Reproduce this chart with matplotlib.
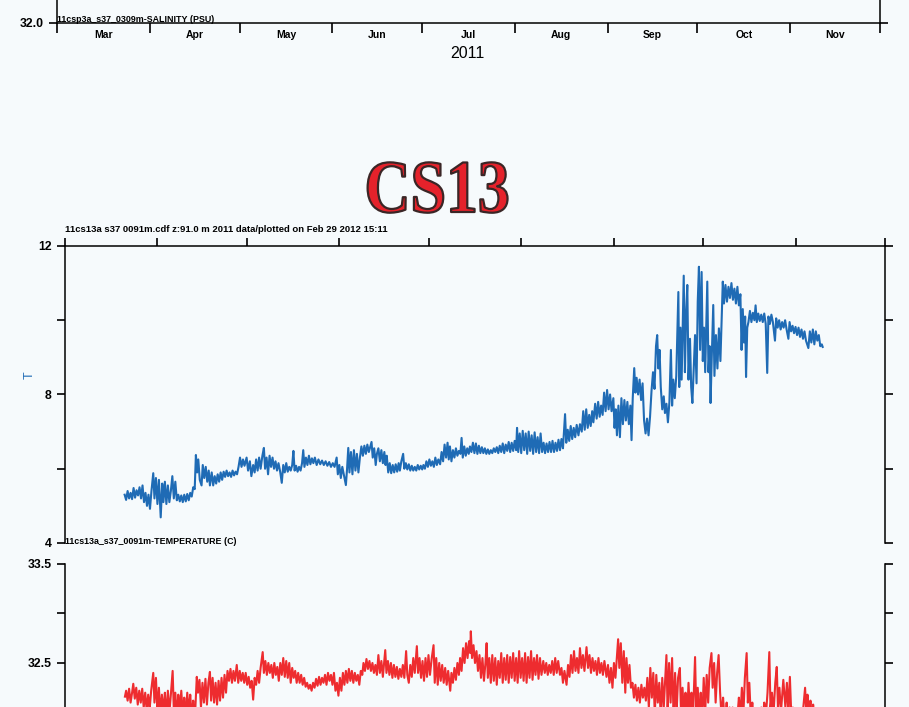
import matplotlib.pyplot as plt
import matplotlib.patheffects as pe
from matplotlib.transforms import Affine2D
from datetime import date

# mooring record, days counted from 1 Mar 2011
temp_pts = [
    (20.0, 5.30), (20.5, 5.16), (21.0, 5.40), (21.5, 5.20), (22.0, 5.35), (22.5, 5.18), (23.0, 5.48), (23.5, 5.22),
    (24.0, 5.42), (24.5, 5.28), (25.0, 5.50), (25.5, 5.20), (26.0, 5.55), (26.5, 5.10), (27.0, 5.35), (27.5, 5.00),
    (28.0, 5.30), (28.5, 4.92), (29.0, 5.40), (29.6, 5.88), (30.0, 5.20), (30.5, 5.75), (31.0, 5.05), (31.5, 5.70),
    (32.1, 4.69), (32.6, 5.60), (33.0, 5.10), (33.5, 5.65), (34.0, 5.05), (34.5, 5.55), (35.0, 5.10), (35.5, 5.40),
    (36.0, 5.80), (36.5, 5.20), (37.0, 5.65), (37.5, 5.15), (38.0, 5.30), (38.5, 5.12), (39.0, 5.28), (39.5, 5.10),
    (40.0, 5.30), (40.5, 5.12), (41.0, 5.32), (41.5, 5.15), (42.0, 5.35), (42.5, 5.25), (43.0, 5.50), (43.5, 5.45),
    (43.9, 6.37), (44.3, 5.90), (44.7, 6.25), (45.2, 5.70), (45.8, 5.55), (46.2, 6.10), (46.7, 5.75), (47.2, 6.05),
    (47.7, 5.65), (48.2, 5.95), (48.6, 5.55), (49.2, 5.90), (49.7, 5.55), (50.2, 5.80), (50.7, 5.60), (51.2, 5.85),
    (51.7, 5.65), (52.2, 5.90), (52.7, 5.70), (53.2, 5.92), (53.7, 5.78), (54.2, 5.95), (54.7, 5.80), (55.2, 5.90),
    (55.7, 5.78), (56.2, 5.95), (56.7, 5.82), (57.2, 5.92), (57.7, 5.85), (58.2, 6.05), (58.7, 6.30), (59.2, 6.05),
    (59.7, 6.25), (60.2, 6.08), (60.9, 6.30), (61.4, 5.95), (62.0, 6.20), (62.5, 5.80), (63.1, 6.10), (63.6, 5.90),
    (64.1, 6.25), (64.6, 5.95), (65.1, 6.30), (65.6, 6.00), (66.2, 6.35), (66.7, 6.56), (67.1, 6.00), (67.6, 6.30),
    (68.1, 5.85), (68.6, 6.35), (69.1, 6.05), (69.6, 6.30), (70.1, 6.00), (70.6, 6.20), (71.1, 5.95), (71.6, 6.15),
    (72.2, 5.90), (72.7, 5.62), (73.2, 6.10), (73.7, 5.90), (74.2, 6.15), (74.7, 5.92), (75.2, 6.05), (75.7, 5.95),
    (76.2, 6.10), (76.6, 6.48), (77.0, 5.95), (77.5, 6.08), (78.0, 5.92), (78.5, 6.05), (79.0, 5.95), (79.5, 6.15),
    (79.9, 6.50), (80.3, 6.05), (80.8, 6.30), (81.3, 6.10), (81.8, 6.35), (82.3, 6.12), (82.8, 6.28), (83.3, 6.15),
    (83.8, 6.30), (84.4, 6.10), (85.0, 6.25), (85.6, 6.12), (86.2, 6.22), (86.8, 6.10), (87.4, 6.20), (88.0, 6.08),
    (88.6, 6.18), (89.2, 6.05), (89.8, 6.15), (90.4, 6.05), (91.1, 6.30), (91.5, 5.85), (92.0, 6.10), (92.5, 5.75),
    (93.0, 6.05), (93.6, 5.80), (94.2, 5.56), (94.6, 6.00), (95.0, 6.56), (95.4, 5.90), (95.9, 6.45), (96.4, 5.85),
    (96.9, 6.50), (97.4, 5.95), (97.9, 6.40), (98.4, 5.90), (98.9, 6.30), (99.4, 6.60), (99.9, 6.35), (100.4, 6.62),
    (100.9, 6.40), (101.4, 6.65), (101.9, 6.45), (102.4, 6.60), (102.8, 6.72), (103.2, 6.30), (103.7, 6.55), (104.2, 6.10),
    (104.6, 6.40), (105.1, 6.55), (105.6, 6.20), (106.1, 6.50), (106.6, 6.15), (107.1, 6.45), (107.5, 6.10), (107.9, 6.35),
    (108.4, 5.90), (108.9, 6.15), (109.4, 5.88), (109.9, 6.10), (110.4, 5.90), (110.9, 6.12), (111.4, 5.92), (111.9, 6.15),
    (112.3, 5.95), (112.8, 6.20), (113.4, 6.40), (113.8, 6.00), (114.3, 6.15), (114.8, 5.98), (115.3, 6.12), (115.8, 5.95),
    (116.3, 6.08), (116.8, 5.95), (117.3, 6.05), (117.8, 5.95), (118.3, 6.10), (118.8, 5.98), (119.3, 6.08), (119.8, 5.98),
    (120.2, 6.10), (120.7, 6.00), (121.2, 6.20), (121.7, 6.05), (122.2, 6.25), (122.7, 6.08), (123.2, 6.20), (123.7, 6.05),
    (124.2, 6.30), (124.7, 6.10), (125.2, 6.25), (125.8, 6.12), (126.3, 6.45), (126.8, 6.20), (127.3, 6.65), (127.8, 6.30),
    (128.3, 6.70), (128.7, 6.25), (129.1, 6.60), (129.6, 6.20), (130.1, 6.50), (130.6, 6.30), (131.1, 6.55), (131.6, 6.35),
    (132.1, 6.48), (132.6, 6.40), (133.0, 6.83), (133.4, 6.30), (133.9, 6.60), (134.4, 6.35), (134.9, 6.55), (135.4, 6.40),
    (135.8, 6.60), (136.3, 6.45), (136.8, 6.70), (137.3, 6.42), (137.8, 6.68), (138.3, 6.40), (138.8, 6.62), (139.3, 6.42),
    (139.8, 6.58), (140.3, 6.42), (140.8, 6.55), (141.3, 6.40), (141.8, 6.52), (142.3, 6.40), (142.8, 6.50), (143.3, 6.42),
    (143.8, 6.55), (144.3, 6.45), (144.8, 6.58), (145.3, 6.42), (145.8, 6.62), (146.3, 6.45), (146.8, 6.68), (147.3, 6.42),
    (147.8, 6.65), (148.3, 6.48), (148.8, 6.72), (149.3, 6.45), (149.8, 6.70), (150.3, 6.48), (150.8, 6.75), (151.3, 6.50),
    (151.6, 7.10), (152.0, 6.45), (152.5, 6.95), (153.0, 6.42), (153.5, 7.02), (154.0, 6.50), (154.5, 6.95), (155.0, 6.40),
    (155.5, 7.00), (156.0, 6.48), (156.5, 6.90), (157.0, 6.40), (157.5, 6.98), (158.0, 6.45), (158.5, 6.85), (159.0, 6.42),
    (159.5, 6.95), (160.0, 6.45), (160.5, 6.70), (161.0, 6.42), (161.5, 6.68), (162.0, 6.45), (162.5, 6.72), (163.0, 6.45),
    (163.5, 6.75), (164.0, 6.45), (164.5, 6.70), (165.0, 6.48), (165.5, 6.78), (166.0, 6.50), (166.5, 6.80), (167.0, 6.55),
    (167.7, 7.47), (168.1, 6.70), (168.6, 7.05), (169.1, 6.75), (169.6, 7.15), (170.1, 6.80), (170.6, 7.10), (171.1, 6.85),
    (171.6, 7.18), (172.2, 6.90), (172.7, 7.20), (173.3, 7.00), (173.8, 7.55), (174.3, 7.05), (174.8, 7.60), (175.3, 7.10),
    (175.8, 7.45), (176.3, 7.15), (176.8, 7.55), (177.2, 7.25), (177.8, 7.75), (178.3, 7.35), (178.8, 7.80), (179.3, 7.40),
    (179.8, 7.70), (180.3, 7.45), (180.8, 8.05), (181.3, 7.55), (181.8, 8.12), (182.3, 7.60), (182.8, 8.00), (183.3, 7.55),
    (183.9, 7.90), (184.3, 7.10), (184.7, 7.60), (185.1, 6.90), (185.6, 7.70), (186.1, 6.85), (186.6, 7.90), (187.1, 7.20),
    (187.6, 7.85), (188.1, 7.30), (188.6, 7.80), (189.1, 7.20), (189.6, 7.70), (190.0, 6.77), (190.4, 7.90), (190.9, 8.71),
    (191.3, 8.05), (191.7, 8.45), (192.2, 8.00), (192.7, 8.40), (193.2, 7.85), (193.7, 8.30), (194.2, 7.30), (194.7, 6.95),
    (195.2, 7.35), (195.7, 6.90), (196.2, 7.40), (196.7, 8.10), (197.2, 8.60), (197.7, 8.15), (198.2, 9.30), (198.6, 9.60),
    (199.0, 8.70), (199.4, 9.20), (199.8, 8.20), (200.3, 7.60), (200.8, 7.95), (201.2, 7.50), (201.7, 7.75), (202.2, 7.25),
    (202.7, 7.80), (203.2, 9.20), (203.6, 7.70), (204.0, 8.40), (204.5, 7.90), (205.0, 8.50), (205.7, 10.76), (206.0, 8.20),
    (206.4, 9.80), (206.8, 8.40), (207.5, 11.20), (207.9, 8.60), (208.3, 10.20), (208.7, 10.95), (209.1, 8.40), (209.6, 9.50),
    (210.0, 8.20), (210.4, 7.77), (210.9, 8.80), (211.3, 9.60), (211.8, 8.30), (212.2, 10.50), (212.6, 11.44), (213.0, 9.20),
    (213.5, 11.30), (213.9, 8.90), (214.3, 9.80), (214.7, 8.60), (215.4, 11.04), (215.8, 8.60), (216.2, 9.30), (216.5, 7.77),
    (216.9, 9.00), (217.4, 10.41), (217.8, 8.50), (218.3, 9.60), (218.8, 8.70), (219.3, 9.78), (219.8, 8.90), (220.2, 10.00),
    (220.6, 11.04), (221.0, 10.45), (221.5, 10.95), (222.0, 10.50), (222.5, 10.90), (223.0, 10.60), (223.5, 11.00), (224.0, 10.55),
    (224.5, 10.85), (225.0, 10.45), (225.5, 10.90), (226.0, 10.40), (226.5, 10.70), (226.9, 9.20), (227.3, 10.30), (227.7, 9.40),
    (228.1, 10.10), (228.4, 8.47), (228.8, 9.80), (229.2, 9.95), (229.7, 10.25), (230.2, 9.95), (230.7, 10.20), (231.2, 10.00),
    (231.6, 10.40), (232.0, 9.95), (232.5, 10.18), (233.0, 9.98), (233.5, 10.15), (234.0, 9.95), (234.5, 10.18), (235.0, 9.90),
    (235.5, 8.58), (235.9, 10.10), (236.4, 9.90), (236.9, 10.15), (237.4, 9.95), (238.1, 9.45), (238.5, 10.05), (239.0, 9.80),
    (239.5, 10.00), (240.0, 9.75), (240.5, 9.95), (241.0, 9.80), (241.5, 10.00), (242.0, 9.75), (242.6, 9.50), (243.0, 9.95),
    (243.5, 9.70), (244.0, 9.85), (244.5, 9.65), (245.0, 9.82), (245.5, 9.60), (246.0, 9.80), (246.5, 9.55), (247.0, 9.75),
    (247.5, 9.50), (248.0, 9.70), (248.5, 9.45), (249.3, 9.25), (249.8, 9.70), (250.3, 9.40), (250.8, 9.75), (251.3, 9.35),
    (251.8, 9.70), (252.3, 9.45), (252.8, 9.60), (253.3, 9.30), (253.8, 9.35), (254.1, 9.28),
]

sal_pts = [
    (20.1, 32.16), (20.5, 32.22), (21.0, 32.12), (21.5, 32.24), (22.0, 32.10), (22.5, 32.20), (22.9, 32.29), (23.4, 32.14),
    (23.9, 32.25), (24.4, 32.08), (24.9, 32.22), (25.4, 32.10), (25.9, 32.24), (26.4, 32.05), (26.9, 32.20), (27.4, 32.02),
    (27.9, 32.18), (28.4, 32.04), (28.9, 32.22), (29.6, 32.40), (30.0, 32.10), (30.5, 32.35), (31.0, 32.00), (31.5, 32.25),
    (32.0, 31.98), (32.5, 32.18), (33.0, 32.00), (33.5, 32.20), (34.0, 31.95), (34.5, 32.22), (35.0, 32.00), (35.5, 32.18),
    (36.1, 32.42), (36.5, 32.02), (37.0, 32.20), (37.5, 31.95), (38.0, 32.18), (38.5, 32.00), (39.0, 32.22), (39.5, 31.98),
    (40.0, 32.15), (40.5, 31.96), (41.0, 32.20), (41.5, 32.00), (42.0, 32.18), (42.5, 31.95), (43.0, 32.12), (43.5, 31.90),
    (44.2, 32.36), (44.6, 32.20), (45.1, 32.33), (45.6, 32.05), (46.1, 32.30), (46.6, 32.10), (47.1, 32.34), (47.6, 32.08),
    (48.1, 32.30), (48.6, 32.41), (49.0, 32.12), (49.5, 32.35), (50.0, 32.10), (50.5, 32.30), (51.0, 32.08), (51.5, 32.32),
    (52.0, 32.12), (52.5, 32.35), (53.0, 32.15), (53.5, 32.38), (54.0, 32.20), (54.5, 32.42), (55.0, 32.32), (55.5, 32.44),
    (56.0, 32.30), (56.5, 32.42), (57.0, 32.32), (57.6, 32.48), (58.1, 32.30), (58.6, 32.42), (59.1, 32.32), (59.6, 32.40),
    (60.1, 32.30), (60.6, 32.40), (61.1, 32.28), (61.6, 32.36), (62.1, 32.25), (62.6, 32.32), (63.1, 32.13), (63.6, 32.35),
    (64.1, 32.28), (64.6, 32.42), (65.1, 32.30), (65.6, 32.45), (66.3, 32.61), (66.7, 32.40), (67.2, 32.52), (67.7, 32.38),
    (68.2, 32.50), (68.7, 32.40), (69.2, 32.48), (69.7, 32.35), (70.2, 32.50), (70.7, 32.38), (71.2, 32.46), (71.7, 32.32),
    (72.2, 32.50), (72.7, 32.38), (73.2, 32.55), (73.7, 32.36), (74.2, 32.52), (74.7, 32.35), (75.2, 32.50), (75.7, 32.30),
    (76.2, 32.45), (76.7, 32.35), (77.2, 32.42), (77.7, 32.30), (78.2, 32.40), (78.7, 32.30), (79.2, 32.38), (79.7, 32.28),
    (80.2, 32.35), (80.7, 32.26), (81.2, 32.30), (81.7, 32.24), (82.2, 32.28), (82.7, 32.22), (83.2, 32.30), (83.7, 32.25),
    (84.2, 32.34), (84.7, 32.27), (85.2, 32.36), (85.7, 32.28), (86.2, 32.35), (86.7, 32.30), (87.2, 32.38), (87.7, 32.28),
    (88.2, 32.40), (88.7, 32.32), (89.2, 32.38), (89.7, 32.28), (90.2, 32.40), (90.7, 32.22), (91.2, 32.30), (91.7, 32.17),
    (92.2, 32.35), (92.7, 32.22), (93.2, 32.40), (93.7, 32.28), (94.2, 32.42), (94.7, 32.30), (95.2, 32.44), (95.7, 32.32),
    (96.2, 32.42), (96.7, 32.30), (97.2, 32.40), (97.7, 32.32), (98.2, 32.38), (98.7, 32.28), (99.2, 32.42), (99.7, 32.38),
    (100.1, 32.50), (100.6, 32.42), (101.1, 32.54), (101.6, 32.44), (102.1, 32.52), (102.6, 32.42), (103.1, 32.50), (103.6, 32.40),
    (104.1, 32.48), (104.6, 32.38), (105.1, 32.58), (105.6, 32.40), (106.1, 32.52), (106.6, 32.36), (107.4, 32.63), (107.8, 32.40),
    (108.3, 32.52), (108.8, 32.38), (109.3, 32.50), (109.8, 32.35), (110.3, 32.48), (110.8, 32.36), (111.3, 32.46), (111.8, 32.34),
    (112.3, 32.44), (112.8, 32.36), (113.3, 32.48), (113.8, 32.35), (114.4, 32.62), (114.8, 32.38), (115.3, 32.30), (115.8, 32.48),
    (116.3, 32.36), (116.8, 32.55), (117.3, 32.40), (118.0, 32.67), (118.4, 32.40), (118.9, 32.55), (119.4, 32.35), (119.9, 32.52),
    (120.4, 32.32), (120.9, 32.55), (121.4, 32.36), (121.9, 32.58), (122.4, 32.38), (123.0, 32.55), (123.6, 32.68), (124.0, 32.30),
    (124.5, 32.55), (125.0, 32.28), (125.5, 32.50), (126.0, 32.32), (126.5, 32.48), (127.0, 32.30), (127.5, 32.45), (128.0, 32.28),
    (128.5, 32.42), (129.2, 32.22), (129.6, 32.40), (130.1, 32.30), (130.6, 32.45), (131.1, 32.33), (131.6, 32.50), (132.1, 32.38),
    (132.5, 32.55), (133.0, 32.42), (133.5, 32.65), (134.0, 32.50), (134.5, 32.70), (135.0, 32.55), (135.5, 32.72), (135.9, 32.60),
    (136.1, 32.82), (136.5, 32.55), (137.0, 32.68), (137.5, 32.50), (138.0, 32.62), (138.5, 32.42), (139.0, 32.58), (139.5, 32.35),
    (140.0, 32.55), (140.5, 32.32), (141.0, 32.50), (141.4, 32.70), (141.8, 32.35), (142.3, 32.55), (142.8, 32.30), (143.3, 32.58),
    (143.8, 32.32), (144.3, 32.55), (144.8, 32.28), (145.3, 32.52), (145.8, 32.35), (146.3, 32.60), (146.8, 32.30), (147.3, 32.55),
    (147.8, 32.33), (148.3, 32.58), (148.8, 32.30), (149.3, 32.56), (149.8, 32.35), (150.3, 32.60), (150.8, 32.32), (151.3, 32.55),
    (151.8, 32.30), (152.3, 32.62), (152.8, 32.35), (153.3, 32.55), (153.8, 32.32), (154.3, 32.60), (154.8, 32.30), (155.3, 32.56),
    (155.8, 32.35), (156.3, 32.62), (156.8, 32.33), (157.3, 32.55), (157.8, 32.38), (158.3, 32.58), (158.8, 32.34), (159.3, 32.55),
    (159.8, 32.38), (160.4, 32.52), (160.9, 32.40), (161.4, 32.50), (161.9, 32.38), (162.4, 32.48), (162.9, 32.40), (163.4, 32.52),
    (163.9, 32.38), (164.4, 32.55), (164.9, 32.40), (165.4, 32.52), (166.0, 32.38), (166.5, 32.45), (167.0, 32.30), (167.5, 32.42),
    (168.2, 32.28), (168.7, 32.48), (169.2, 32.36), (169.7, 32.58), (170.2, 32.40), (170.7, 32.62), (171.2, 32.42), (171.7, 32.55),
    (172.2, 32.40), (172.7, 32.65), (173.2, 32.45), (173.7, 32.58), (174.2, 32.42), (174.9, 32.66), (175.4, 32.45), (175.9, 32.58),
    (176.4, 32.40), (176.9, 32.55), (177.4, 32.42), (177.9, 32.52), (178.4, 32.38), (178.9, 32.55), (179.4, 32.40), (179.9, 32.50),
    (180.4, 32.38), (180.9, 32.52), (181.6, 32.36), (182.1, 32.48), (182.6, 32.30), (183.1, 32.45), (183.6, 32.25), (184.1, 32.50),
    (184.6, 32.35), (185.5, 32.74), (185.9, 32.45), (186.4, 32.70), (186.9, 32.30), (187.4, 32.62), (187.9, 32.20), (188.3, 32.55),
    (188.8, 32.30), (189.3, 32.48), (189.8, 32.25), (190.3, 32.30), (190.8, 32.15), (191.3, 32.28), (191.8, 32.12), (192.3, 32.25),
    (192.8, 32.10), (193.3, 32.28), (193.8, 32.15), (194.3, 32.25), (194.8, 32.12), (195.3, 32.35), (195.8, 32.05), (196.3, 32.45),
    (196.8, 32.15), (197.3, 32.40), (197.8, 31.98), (198.3, 32.38), (198.8, 32.10), (199.3, 32.30), (199.8, 31.95), (200.3, 32.35),
    (200.8, 32.05), (201.7, 32.58), (202.1, 32.00), (202.6, 32.50), (203.1, 32.10), (203.6, 32.55), (204.1, 31.95), (204.6, 32.40),
    (205.1, 32.00), (205.6, 32.35), (206.2, 32.45), (206.6, 31.98), (207.1, 32.25), (207.6, 31.95), (208.1, 32.20), (208.6, 31.90),
    (209.1, 32.30), (209.6, 32.00), (210.1, 32.20), (210.6, 31.95), (211.3, 32.56), (211.7, 32.00), (212.2, 32.25), (212.7, 31.92),
    (213.2, 32.20), (213.7, 31.90), (214.2, 32.35), (214.7, 32.00), (215.2, 32.38), (215.7, 32.10), (216.2, 32.45), (216.8, 32.60),
    (217.2, 32.25), (217.7, 32.50), (218.2, 32.10), (218.7, 32.40), (219.2, 32.58), (219.7, 32.20), (220.2, 31.95), (220.7, 32.15),
    (221.2, 31.90), (221.9, 32.10), (222.4, 31.92), (222.9, 32.05), (223.4, 31.88), (223.9, 32.05), (224.4, 31.90), (224.9, 32.02),
    (225.4, 31.92), (226.0, 32.15), (226.5, 31.95), (227.0, 32.25), (227.5, 31.98), (228.0, 32.35), (228.6, 32.60), (229.0, 32.10),
    (229.5, 32.30), (230.0, 31.95), (230.5, 32.10), (231.0, 31.90), (231.5, 32.02), (232.0, 31.90), (232.5, 31.98), (233.0, 31.88),
    (233.5, 32.05), (234.0, 31.92), (234.5, 32.10), (235.0, 31.95), (235.6, 32.20), (236.2, 32.61), (236.6, 32.05), (237.1, 32.20),
    (237.6, 31.98), (238.2, 32.30), (238.7, 32.46), (239.1, 32.05), (239.6, 32.25), (240.1, 32.00), (240.9, 32.33), (241.6, 32.05),
    (242.1, 32.30), (242.6, 32.00), (243.1, 32.36), (243.6, 31.95), (244.1, 32.05), (244.6, 31.90), (245.1, 31.98), (245.6, 31.88),
    (246.1, 31.95), (246.6, 31.85), (247.1, 31.95), (247.6, 32.05), (248.2, 32.25), (248.6, 32.00), (249.0, 32.18), (249.5, 31.95),
    (250.0, 32.12), (250.5, 31.90), (250.9, 32.08), (251.3, 31.92),
]

temp_day, temp_c = zip(*temp_pts)
sal_day, sal_psu = zip(*sal_pts)

months = ['Mar', 'Apr', 'May', 'Jun', 'Jul', 'Aug', 'Sep', 'Oct', 'Nov']
year = 2011
start = date(year, 3, 1)
month_starts = [(date(year, m, 1) - start).days for m in range(3, 13)]
month_mids = [(a + b) / 2 for a, b in zip(month_starts[:-1], month_starts[1:])]
span = month_starts[-1]

bg = '#f6fafc'
blue = '#1f6bb5'
red = '#ee2c2f'


class Squeezed(pe.AbstractPathEffect):
    """Fill and outline a text path, narrowed horizontally about a figure x."""

    def __init__(self, fig, xfrac, sx, edge, lw):
        super().__init__()
        self.fig, self.xfrac, self.sx, self.edge, self.lw = fig, xfrac, sx, edge, lw

    def draw_path(self, renderer, gc, tpath, affine, rgbFace=None):
        cx = self.xfrac * self.fig.bbox.width
        squeeze = Affine2D().translate(-cx, 0).scale(self.sx, 1).translate(cx, 0)
        gc0 = renderer.new_gc()
        gc0.copy_properties(gc)
        gc0.set_linewidth(self.lw)
        gc0.set_foreground(self.edge)
        renderer.draw_path(gc0, tpath, affine + squeeze, rgbFace)
        gc0.restore()


plt.rcParams['font.family'] = 'Liberation Sans'
plt.rcParams['font.weight'] = 'bold'
fig = plt.figure(figsize=(9.09, 7.07), dpi=100, facecolor=bg)

def style(ax):
    ax.set_facecolor(bg)
    for s in ax.spines.values():
        s.set_linewidth(1.1)
    ax.tick_params(which='both', direction='out', length=6, width=1.2, labelsize=8.8)
    ax.set_xlim(0, span)

# bottom of the salinity panel from the previous mooring
ax0 = fig.add_axes([0.0627, 0.9675, 0.9054, 0.2])
style(ax0)
ax0.spines['top'].set_visible(False)
ax0.set_ylim(32.0, 33.0)
ax0.set_yticks([32.0])
ax0.set_yticklabels(['32.0'])
ax0.tick_params(axis='y', left=True, right=True)
ax0.set_xticks(month_starts)
ax0.set_xticklabels([])
ax0.tick_params(axis='x', which='major', length=7)
ax0.set_xticks(month_mids, minor=True)
ax0.set_xticklabels(months, minor=True)
ax0.tick_params(axis='x', which='minor', length=0, pad=5, labelsize=7.5)
fig.text(0.0627, 1 - 19 / 707, '11csp3a_s37_0309m-SALINITY (PSU)', va='center', fontsize=6.4)
fig.text(467 / 909, 1 - 53 / 707, str(year), fontsize=11.5, weight='normal', ha='center', va='center')

# CS13 heading, narrowed serif with a dark rim
cs_x = 437 / 909
fig.text(cs_x, 1 - 212 / 707, 'CS13', fontsize=54, family='Liberation Serif', weight='bold',
         color='#e5222b', ha='center', va='baseline',
         path_effects=[Squeezed(fig, cs_x, 0.85, '#3a2626', 1.6)])

# temperature
ax1 = fig.add_axes([0.0715, 0.2320, 0.9021, 0.4201])
style(ax1)
ax1.spines['bottom'].set_visible(False)
ax1.plot(temp_day, temp_c, color=blue, lw=1.5)
ax1.set_ylim(4, 12)
ax1.set_yticks([4, 8, 12])
ax1.set_yticks([6, 10], minor=True)
ax1.tick_params(axis='y', which='both', left=True, right=True)
ax1.set_xticks(month_starts)
ax1.set_xticklabels([])
ax1.tick_params(axis='x', bottom=False, top=True)
ax1.set_ylabel('T', color=blue, fontsize=9, weight='normal', rotation=90)
ax1.yaxis.set_label_coords(-0.036, 0.566)
fig.text(0.0715, 1 - 230 / 707, '11cs13a s37 0091m.cdf z:91.0 m 2011 data/plotted on Feb 29 2012 15:11',
         va='center', fontsize=6.8)
fig.text(0.0715, 1 - 541 / 707, '11cs13a_s37_0091m-TEMPERATURE (C)', va='center', fontsize=6.4)

# salinity
ax2 = fig.add_axes([0.0715, -0.0778, 0.9021, 0.2801])
style(ax2)
ax2.spines['top'].set_visible(False)
ax2.plot(sal_day, sal_psu, color=red, lw=1.5)
ax2.set_ylim(31.5, 33.5)
ax2.set_yticks([32.5, 33.5])
ax2.set_yticks([32.0, 33.0], minor=True)
ax2.tick_params(axis='y', which='both', left=True, right=True)
ax2.set_xticks([])

fig.savefig('out.png', dpi=100, facecolor=bg)
